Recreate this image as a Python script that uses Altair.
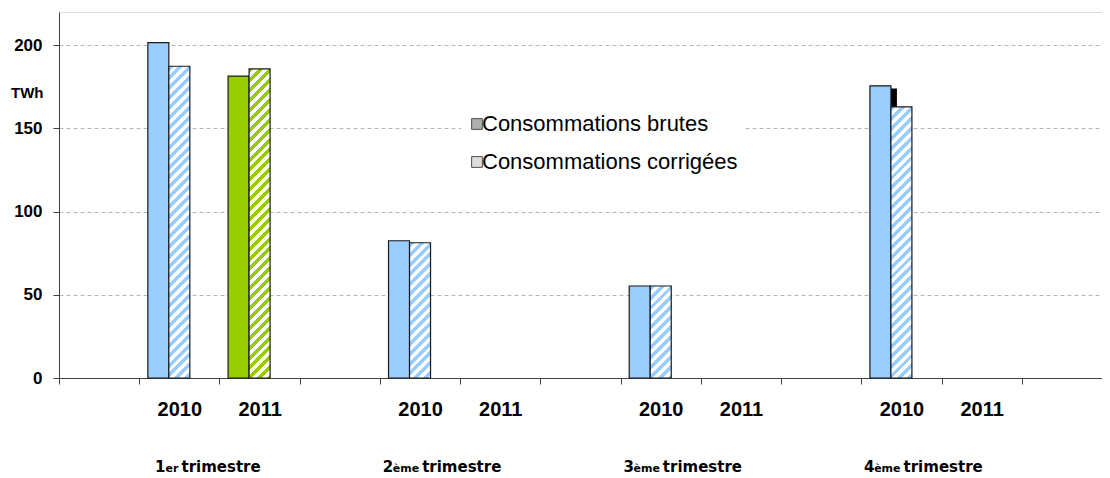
import math
import altair as alt
import pandas as pd

# ---------------- data ----------------
quarter_num = ["1", "2", "3", "4"]
quarter_sup = ["er", "ème", "ème", "ème"]
quarter_word = ["trimestre", "trimestre", "trimestre", "trimestre"]
years = ["2010", "2011"]

brutes_2010 = [201.6, 82.5, 55.3, 175.6]
brutes_2011 = [181.4, None, None, None]
corrigees_2010 = [187.4, 81.3, 55.3, 163.0]
corrigees_2011 = [185.8, None, None, None]
ombre_2010 = [None, None, None, 174.0]   # dark artefact behind the 4th-quarter bar

series_labels = ["Consommations brutes", "Consommations corrigées"]
serie_keys = ["brutes", "corrigees", "vide"]

year_colors = ["#99CCFF", "#99CC00"]
legend_colors = ["#8C8C8C", "#CFCFCF"]

# ---------------- layout ----------------
W, H, YMAX = 1043, 366, 220
PAD_OUT = 0.41
FONT = "Liberation Sans, Arial, sans-serif"
QFONT = "DejaVu Sans"

slots = []
slot_of = {}
for qi in range(4):
    slots.append(f"|gap{qi}")
    for y in years:
        s = f"{y}|{qi + 1}"
        slots.append(s)
        slot_of[(qi, y)] = s
slots.append("|gap4")

band = W / len(slots)
step = band / (3 + 2 * PAD_OUT)
px_per_unit = H / YMAX

rows = []
vals = {("brutes", "2010"): brutes_2010, ("brutes", "2011"): brutes_2011,
        ("corrigees", "2010"): corrigees_2010, ("corrigees", "2011"): corrigees_2011}
for (serie, y), arr in vals.items():
    for qi, v in enumerate(arr):
        if v is not None:
            rows.append(dict(slot=slot_of[(qi, y)], serie=serie, year=y, value=v))
bars = pd.DataFrame(rows)

ombre_df = pd.DataFrame([dict(slot=slot_of[(qi, "2010")], value=v)
                         for qi, v in enumerate(ombre_2010) if v is not None])

qdf = pd.DataFrame(dict(slot=[slot_of[(qi, "2010")] for qi in range(4)],
                        num=quarter_num, sup=quarter_sup, word=quarter_word))

legend_df = pd.DataFrame(dict(label=series_labels, slot=[slots[0]] * 2, value=[0, 0]))


def hatch(color, w, h, period=7.0, frac=0.5):
    r = w / h
    m = (1 + r) / (1 + r * r)
    n = (w + h) / math.sqrt(2) / period
    stops = []
    k = 0
    while k / n < 1:
        t0 = k / n
        t1 = min((k + frac) / n, 1.0)
        t2 = min((k + 1) / n, 1.0)
        stops += [{"offset": round(t0, 5), "color": color},
                  {"offset": round(t1, 5), "color": color}]
        if t1 < 1:
            stops += [{"offset": round(t1, 5), "color": "#FFFFFF"},
                      {"offset": round(t2, 5), "color": "#FFFFFF"}]
        k += 1
    return {"gradient": "linear", "x1": 0, "y1": 0, "x2": r * m, "y2": m, "stops": stops}


# ---------------- encodings ----------------
x_scale = alt.Scale(type="band", domain=slots, paddingInner=0, paddingOuter=0)
x_axis = alt.Axis(tickBand="extent",
                  labelExpr="isString(datum.value) ? split(datum.value, '|')[0] : ''",
                  domainColor="#404040", tickColor="#404040", tickSize=6,
                  labelFont=FONT, labelFontSize=20, labelFontWeight="bold",
                  labelColor="black", labelBaseline="alphabetic", labelPadding=31,
                  labelAngle=0, grid=False, title=None)
x_enc = alt.X("slot:N", scale=x_scale, axis=x_axis, title=None)
x_edge = alt.X("slot:N", scale=x_scale, axis=x_axis, title=None, bandPosition=1)
xo_enc = alt.XOffset("serie:N", scale=alt.Scale(domain=serie_keys, paddingInner=0,
                                                paddingOuter=PAD_OUT))
y_enc = alt.Y("value:Q", scale=alt.Scale(domain=[0, YMAX], nice=False),
              axis=alt.Axis(values=[0, 50, 100, 150, 200], grid=True, gridDash=[4, 3],
                            gridColor="#B4B4B4", gridWidth=1, domainColor="#404040",
                            tickColor="#404040", tickSize=6, labelPadding=11,
                            labelFont=FONT, labelFontSize=17, labelFontWeight="bold",
                            labelColor="black", titleAngle=0, titleX=-16, titleY=80,
                            titleAlign="right", titleBaseline="middle", titleFont=FONT,
                            titleFontSize=15, titleFontWeight="bold", titleColor="black"),
              title="TWh")

STROKE = dict(stroke="#1A1A1A", strokeWidth=1.2)

ombre_layer = alt.Chart(ombre_df).mark_bar(width=6, xOffset=-(step - 6) / 2,
                                           color="#000000").encode(x=x_enc, y=y_enc)

solid = alt.Chart(bars[bars.serie == "brutes"]).mark_bar(**STROKE).encode(
    x=x_enc, xOffset=xo_enc, y=y_enc,
    fill=alt.Fill("year:N", scale=alt.Scale(domain=years, range=year_colors), legend=None))

hatched = []
for _, r in bars[bars.serie == "corrigees"].iterrows():
    col = year_colors[years.index(r["year"])]
    g = hatch(col, step, r["value"] * px_per_unit)
    hatched.append(alt.Chart(pd.DataFrame([r.to_dict()])).mark_bar(fill=g, **STROKE).encode(
        x=x_enc, xOffset=xo_enc, y=y_enc))

QY = 460
QSIZE = 15
word_layer = alt.Chart(qdf).mark_text(align="left", baseline="alphabetic", dx=-38,
                                      font=QFONT, fontSize=QSIZE, fontWeight="bold",
                                      color="black").encode(x=x_edge, y=alt.value(QY), text="word:N")
sup_layer = alt.Chart(qdf).mark_text(align="right", baseline="alphabetic", dx=-41,
                                     font=QFONT, fontSize=11, fontWeight="bold",
                                     color="black").encode(x=x_edge, y=alt.value(QY), text="sup:N")
sup_dx = {"er": -54, "ème": -67}
num_layers = []
for sup, dx in sup_dx.items():
    num_layers.append(alt.Chart(qdf[qdf.sup == sup]).mark_text(
        align="right", baseline="alphabetic", dx=dx, font=QFONT, fontSize=QSIZE,
        fontWeight="bold", color="black").encode(x=x_edge, y=alt.value(QY), text="num:N"))

legend_layer = alt.Chart(legend_df).mark_square(size=0, filled=True).encode(
    x=x_enc, y=y_enc,
    color=alt.Color("label:N", scale=alt.Scale(domain=series_labels, range=legend_colors),
                    legend=alt.Legend(title=None, orient="none", legendX=402, legendY=96,
                                      direction="vertical", symbolType="square",
                                      symbolSize=115, symbolStrokeColor="black",
                                      symbolStrokeWidth=1, labelFont=FONT,
                                      labelFontSize=22, labelColor="black",
                                      labelOffset={"expr": "-6"}, labelLimit=400,
                                      rowPadding=16, fillColor="white", padding=5)))

chart = alt.layer(ombre_layer, solid, *hatched, word_layer, sup_layer, *num_layers,
                  legend_layer).properties(
    width=W, height=H,
    autosize=alt.AutoSizeParams(type="none"),
    padding={"left": 51, "top": 4, "right": 0, "bottom": 100},
).configure_view(stroke=None).configure(background="white")

chart.save("out.html", embed_options={"renderer": "svg", "actions": False})
